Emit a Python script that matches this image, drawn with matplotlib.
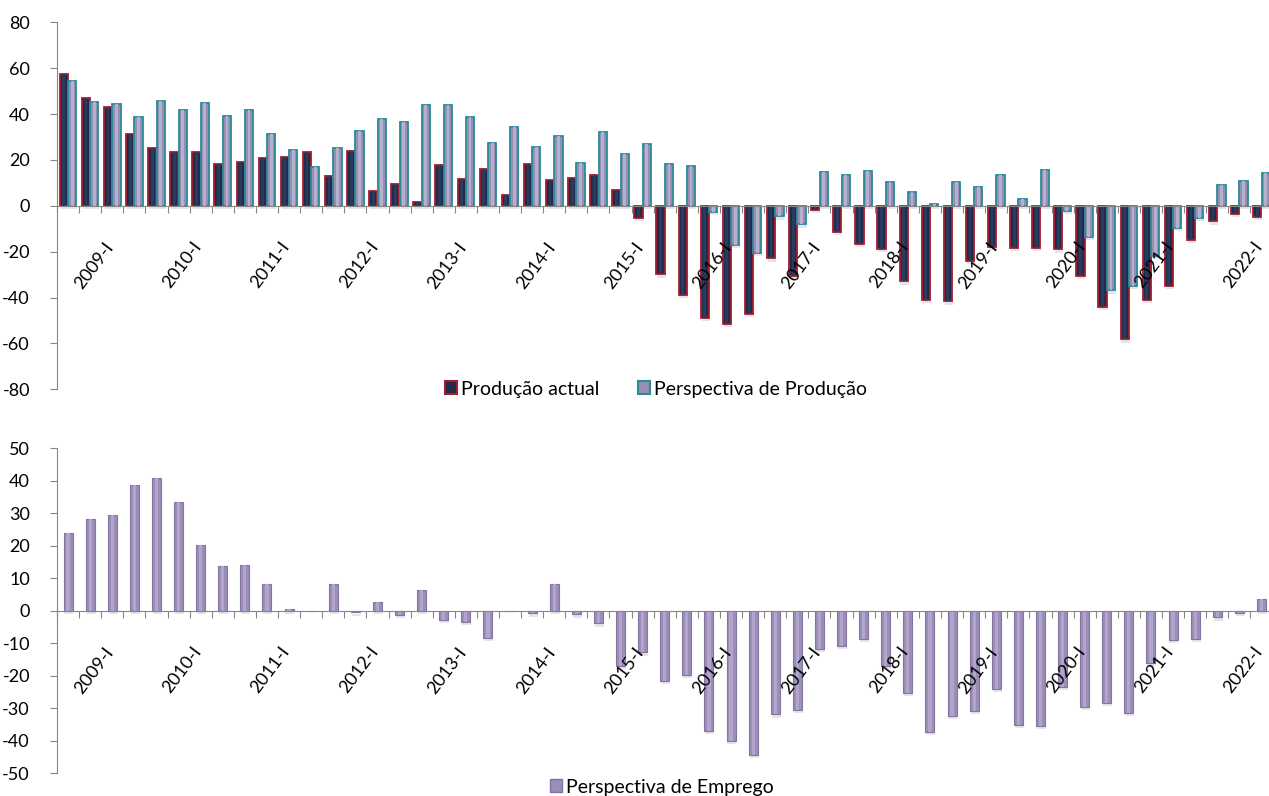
import numpy as np
import matplotlib.pyplot as plt
from matplotlib.patches import Patch
from matplotlib.ticker import FixedLocator

plt.rcParams['font.family'] = ['Lato', 'DejaVu Sans']
plt.rcParams['axes.unicode_minus'] = False

# quarters 2008-III .. 2022-I
quarters = ['2008-III', '2008-IV'] + [f'{y}-{q}' for y in range(2009, 2022)
                                      for q in ['I', 'II', 'III', 'IV']] + ['2022-I']

producao_actual = [57.5, 47, 43, 31.4, 25.4, 23.5, 23.6, 18.1, 19.3, 20.7,
                   21.4, 23.6, 13.2, 23.8, 6.5, 9.4, 1.7, 17.8, 11.9, 16.1,
                   4.9, 18.3, 11.3, 12, 13.5, 6.7, -5.4, -29.9, -38.8, -48.7,
                   -51.4, -47.1, -22.9, -30.4, -1.7, -11.3, -16.5, -18.8, -33, -41,
                   -41.7, -24, -18, -18.5, -18.5, -19, -30.5, -44, -58.2, -41,
                   -35, -15, -6.8, -3.4, -4.7]

perspectiva_producao = [54.5, 45.4, 44.5, 38.7, 45.5, 41.6, 44.9, 39.3, 41.6, 31.4,
                        24.3, 17, 25.2, 32.6, 37.7, 36.7, 43.8, 43.9, 38.7, 27.4,
                        34.5, 25.7, 30.3, 18.8, 32.3, 22.5, 26.8, 18.1, 17.2, -2.6,
                        -17.1, -20.7, -4.6, -8.1, 14.8, 13.5, 15.1, 10.4, 6.1, 1.0,
                        10.3, 8.3, 13.5, 2.8, 15.4, -2.1, -13.7, -36.9, -35, -22,
                        -9.5, -5.4, 9, 10.6, 14.5]

perspectiva_emprego = [23.8, 28.4, 29.4, 38.7, 41, 33.5, 20.4, 13.7, 14.2, 8.1,
                       0.7, 0, 8.1, -0.5, 2.8, -1.3, 6.4, -2.9, -3.4, -8.3,
                       0, -0.8, 8.2, -1.1, -3.9, -17, -12.8, -21.5, -19.7, -37,
                       -40.1, -44.4, -31.9, -30.5, -11.7, -10.7, -8.6, -17, -25.2, -37.2,
                       -32.4, -30.8, -24, -35, -35.5, -23.4, -29.6, -28.4, -31.5, -16,
                       -9, -8.6, -2, -0.6, 3.5]

gray = '#868686'
red_edge, navy = '#a81c2e', '#1f2c4c'
teal_edge, lav = '#2a8b9b', '#978fb3'
purple, purple_edge = '#9c8eb8', '#8474a2'

W, H = 1269, 796
x = np.arange(len(quarters))
step = 22.1

fig = plt.figure(figsize=(W / 100, H / 100), dpi=100)
ax1 = fig.add_axes([57 / W, 1 - 389.3 / H, 55 * step / W, (389.3 - 22.3) / H])
ax2 = fig.add_axes([57 / W, 1 - 773.3 / H, 55 * step / W, (773.3 - 448.3) / H])


def style(ax, lo, hi, dy):
    ax.set_axisbelow(False)
    ax.set_xlim(-0.5, len(quarters) - 0.5)
    ax.set_ylim(lo, hi)
    ax.set_yticks(np.arange(lo, hi + 1, dy))
    for s in ['top', 'right']:
        ax.spines[s].set_visible(False)
    ax.spines['bottom'].set_position(('data', 0))
    ax.spines['left'].set_color(gray)
    ax.spines['bottom'].set_color(gray)
    ax.tick_params(axis='y', length=5, width=0.8, color=gray, pad=14.5, labelsize=13)
    ax.xaxis.set_minor_locator(FixedLocator(np.arange(-0.5, len(quarters), 1)))
    ax.tick_params(axis='x', which='minor', length=5, width=0.8, color=gray)
    ax.tick_params(axis='x', which='major', length=0, pad=24, labelsize=13)
    idx = [i for i, q in enumerate(quarters) if q.endswith('-I')]
    ax.set_xticks(np.array(idx) + 0.18)
    ax.set_xticklabels([quarters[i] for i in idx], rotation=53, ha='right', va='top')
    ax.patch.set_alpha(0)


# top panel
bw = 0.37
for off, vals, fc, ec in [(-0.19, producao_actual, navy, red_edge),
                          (0.19, perspectiva_producao, lav, teal_edge)]:
    ax1.bar(x + off + 0.04, vals, bw, bottom=-1.4, color='#d4d4d4', alpha=0.6, zorder=0.5)
    ax1.bar(x + off, vals, bw, color=fc, edgecolor=ec, linewidth=1.3, zorder=1)
ax1.bar(x + 0.19, perspectiva_producao, bw * 0.35, color='#b7b0cc', zorder=1.2)
ax1.bar(x - 0.19, producao_actual, bw * 0.35, color='#2a3b60', zorder=1.2)
style(ax1, -80, 80, 20)

# bottom panel
ax2.bar(x + 0.04, perspectiva_emprego, 0.41, bottom=-1.0, color='#d4d4d4', alpha=0.6, zorder=0.5)
ax2.bar(x, perspectiva_emprego, 0.41, color=purple, edgecolor=purple_edge, linewidth=0.8, zorder=1)
ax2.bar(x, perspectiva_emprego, 0.41 * 0.35, color='#b2a5cc', zorder=1.2)
style(ax2, -50, 50, 10)

fig.legend(handles=[Patch(facecolor=navy, edgecolor=red_edge, lw=1.5, label='Produção actual'),
                    Patch(facecolor=lav, edgecolor=teal_edge, lw=1.5, label='Perspectiva de Produção')],
           loc='center', bbox_to_anchor=(656 / W, 1 - 389 / H), ncol=2, frameon=False,
           fontsize=14, handlelength=0.6, handleheight=0.6, handletextpad=0.2,
           columnspacing=2.0, borderpad=0)
fig.legend(handles=[Patch(facecolor=purple, edgecolor=purple_edge, lw=1, label='Perspectiva de Emprego')],
           loc='center', bbox_to_anchor=(662 / W, 1 - 787 / H), frameon=False,
           fontsize=14, handlelength=0.6, handleheight=0.6, handletextpad=0.2, borderpad=0)

fig.savefig('out.png', dpi=100)
